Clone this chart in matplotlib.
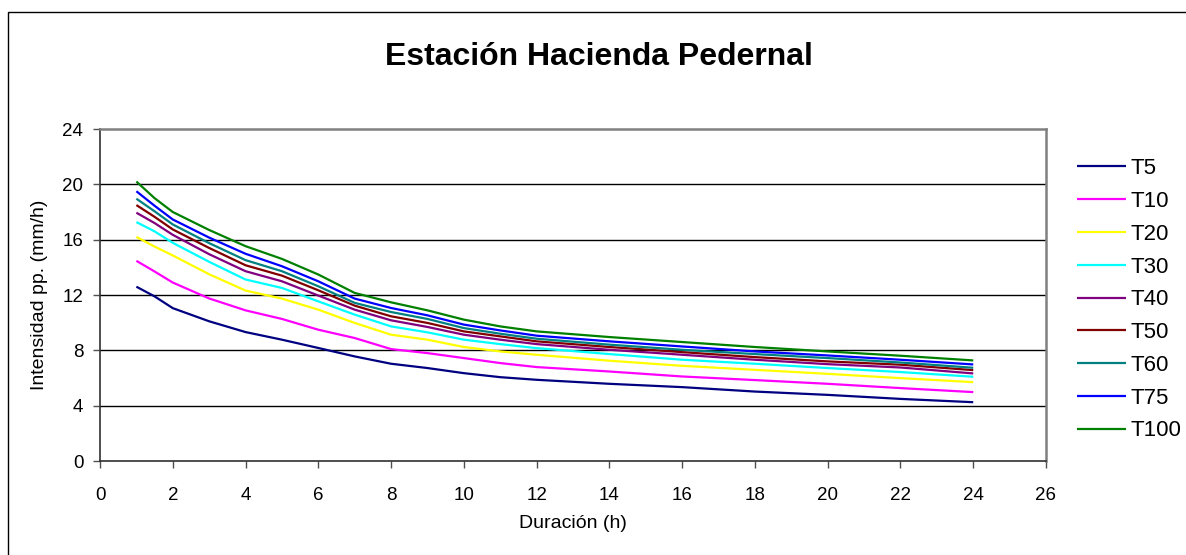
import matplotlib
matplotlib.use("Agg")
import matplotlib.pyplot as plt
from matplotlib.patches import Rectangle

plt.rcParams["font.family"] = ["Liberation Sans", "DejaVu Sans"]

# duration (h)
duracion = [1, 1.5, 2, 3, 4, 5, 6, 7, 8, 9, 10, 11, 12, 14, 16, 18, 20, 22, 24]

# rainfall intensity (mm/h) per return period
T5 = [12.6, 11.9, 11.05, 10.1, 9.32, 8.77, 8.17, 7.56, 7.03, 6.72, 6.35, 6.06, 5.87,
      5.58, 5.34, 5.02, 4.78, 4.49, 4.25]
T10 = [14.47, 13.7, 12.9, 11.75, 10.89, 10.27, 9.49, 8.89, 8.09, 7.8, 7.44, 7.08, 6.79,
       6.47, 6.11, 5.85, 5.58, 5.27, 4.98]
T20 = [16.2, 15.5, 14.86, 13.5, 12.32, 11.74, 10.94, 9.98, 9.13, 8.77, 8.24, 7.92, 7.68,
       7.25, 6.88, 6.59, 6.3, 5.99, 5.7]
T30 = [17.27, 16.6, 15.77, 14.4, 13.12, 12.51, 11.54, 10.58, 9.73, 9.3, 8.77, 8.45, 8.16,
       7.73, 7.32, 7.03, 6.72, 6.43, 6.09]
T40 = [17.95, 17.2, 16.35, 14.95, 13.72, 12.99, 11.96, 10.94, 10.17, 9.69, 9.13, 8.77, 8.45,
       8.04, 7.68, 7.32, 7.0, 6.76, 6.33]
T50 = [18.5, 17.65, 16.74, 15.4, 14.15, 13.4, 12.34, 11.23, 10.46, 9.98, 9.37, 9.01, 8.65,
       8.24, 7.87, 7.51, 7.2, 6.96, 6.57]
T60 = [18.96, 18.05, 17.1, 15.75, 14.52, 13.72, 12.63, 11.43, 10.77, 10.27, 9.61, 9.2, 8.84,
       8.41, 8.04, 7.73, 7.44, 7.12, 6.74]
T75 = [19.5, 18.45, 17.46, 16.15, 14.98, 14.08, 12.99, 11.74, 11.06, 10.53, 9.86, 9.44, 9.06,
       8.65, 8.28, 7.92, 7.63, 7.32, 6.98]
T100 = [20.2, 19.0, 18.0, 16.7, 15.53, 14.61, 13.48, 12.15, 11.47, 10.89, 10.22, 9.73, 9.37,
        8.96, 8.6, 8.24, 7.92, 7.61, 7.27]

series = [("T5", T5, "#000080"), ("T10", T10, "#FF00FF"), ("T20", T20, "#FFFF00"),
          ("T30", T30, "#00FFFF"), ("T40", T40, "#800080"), ("T50", T50, "#800000"),
          ("T60", T60, "#008080"), ("T75", T75, "#0000FF"), ("T100", T100, "#008000")]

fig = plt.figure(figsize=(11.86, 5.55), dpi=100)
ax = fig.add_axes([100 / 1186, 94 / 555, 946 / 1186, 332 / 555])

for name, vals, col in series:
    ax.plot(duracion, vals, color=col, lw=1.6, label=name, solid_capstyle="butt")

ax.set_xlim(0, 26)
ax.set_ylim(0, 24)
ax.set_xticks(range(0, 27, 2))
ax.set_yticks(range(0, 25, 4))
for y in range(4, 24, 4):
    ax.axhline(y, color="black", lw=1.0, zorder=0)

ax.spines["top"].set_color("#808080")
ax.spines["right"].set_color("#808080")
ax.spines["top"].set_linewidth(1.8)
ax.spines["right"].set_linewidth(1.8)
ax.spines["left"].set_color("#303030")
ax.spines["bottom"].set_color("#303030")
ax.spines["left"].set_linewidth(1.2)
ax.spines["bottom"].set_linewidth(1.2)
ax.tick_params(axis="both", labelsize=13.5, length=5, width=1, color="#505050")
ax.tick_params(axis="x", pad=14)
ax.tick_params(axis="y", pad=7)

ax.set_xlabel("Duración (h)", fontsize=14, labelpad=8)
ax.set_ylabel("Intensidad pp. (mm/h)", fontsize=14, labelpad=10)

fig.text(0.505, 0.897, "Estación Hacienda Pedernal", ha="center", va="center",
         fontsize=23, fontweight="bold")

leg = ax.legend(loc="upper left", bbox_to_anchor=(1.0328, 0.912), frameon=False,
                fontsize=16, handlelength=2.2, handletextpad=0.2,
                labelspacing=0.53, borderaxespad=0, borderpad=0)

# outer chart border
fig.patches.append(Rectangle((8 / 1186, -0.01), 1.2, (555 - 12) / 555 + 0.01,
                             transform=fig.transFigure, fill=False,
                             edgecolor="black", lw=1.0))

fig.savefig("out.png", dpi=100)
